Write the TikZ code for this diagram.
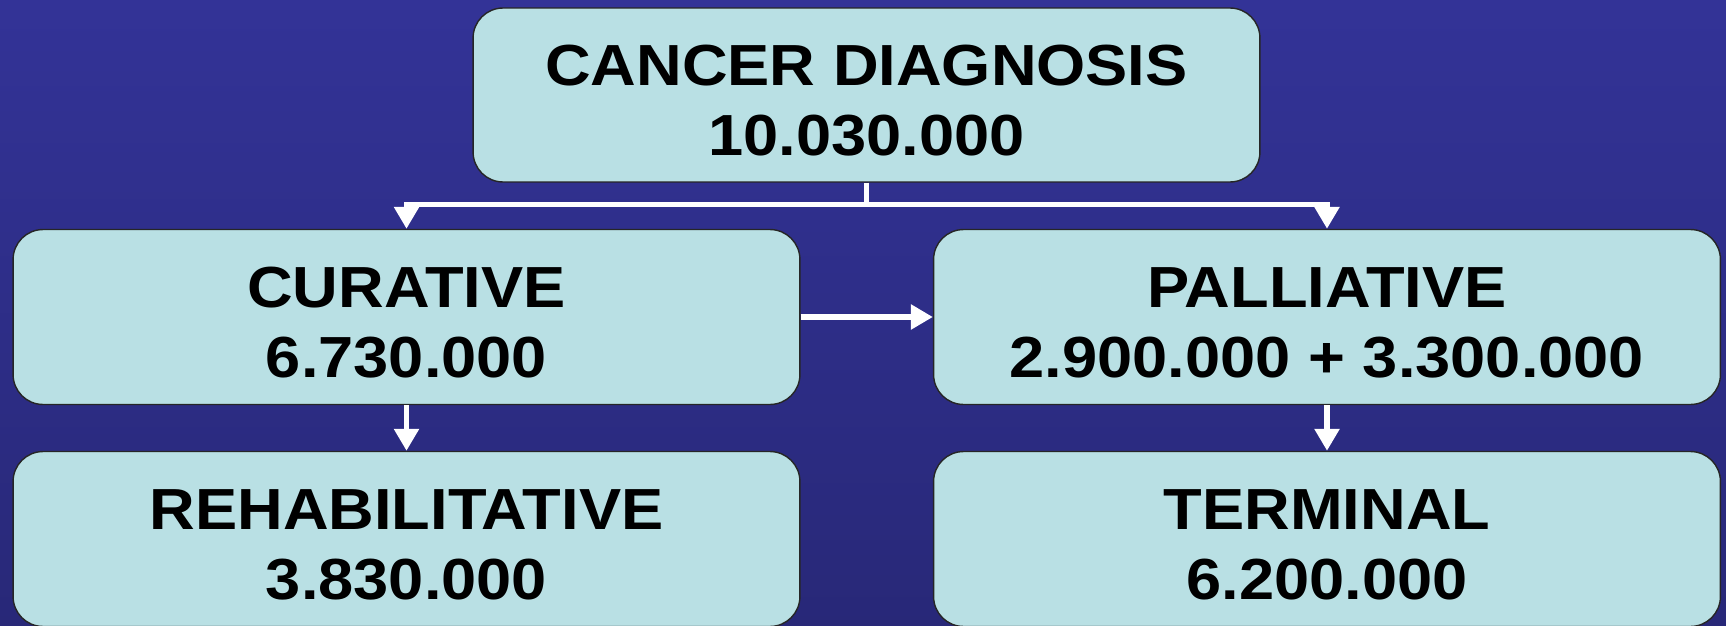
\documentclass[tikz,border=0pt]{standalone}
\usepackage{fontspec}
\setmainfont[FakeStretch=1.09]{Liberation Sans}
\usetikzlibrary{arrows.meta}
\definecolor{bgtop}{RGB}{51,51,151}
\definecolor{bgbot}{RGB}{40,40,120}
\definecolor{boxfill}{RGB}{185,224,228}
\newcommand{\toproom}{\rule{0pt}{1.04cm}}
\tikzset{
  stage/.style={draw=black!85, line width=0.8pt, fill=boxfill, rounded corners=0.6cm,
    minimum width=15.74cm, minimum height=3.5cm, align=center, inner sep=0pt,
    font=\fontsize{33}{40}\selectfont\bfseries},
  link/.style={draw=white, line width=3.2pt},
  flow/.style={link, -{Triangle[length=0.44cm, width=0.48cm]}}
}
\begin{document}
\begin{tikzpicture}[x=0.02cm, y=-0.02cm]
        % Background
        \useasboundingbox (0,0) rectangle (1726,625);
        \shade[top color=bgtop, bottom color=bgbot] (0,0) rectangle (1726,625);

        % Boxes
        \node[stage, minimum height=3.48cm] (top) at (866.5,95) {\toproom CANCER DIAGNOSIS\\10.030.000};
        \node[stage] (curative) at (406.5,317) {\toproom CURATIVE\\6.730.000};
        \node[stage] (palliative) at (1327,317) {\toproom PALLIATIVE\\2.900.000 + 3.300.000};
        \node[stage] (rehab) at (406.5,539) {\toproom REHABILITATIVE\\3.830.000};
        \node[stage] (terminal) at (1327,539) {\toproom TERMINAL\\6.200.000};

        % Arrows
        \draw[link] (top.south) -- ++(0,22) coordinate (split);
        \draw[flow] (split) -| (curative.north);
        \draw[flow] (split) -| (palliative.north);
        \draw[flow] (curative.east) -- (palliative.west);
        \draw[flow] (curative.south) -- (rehab.north);
        \draw[flow] (palliative.south) -- (terminal.north);
\end{tikzpicture}
\end{document}
